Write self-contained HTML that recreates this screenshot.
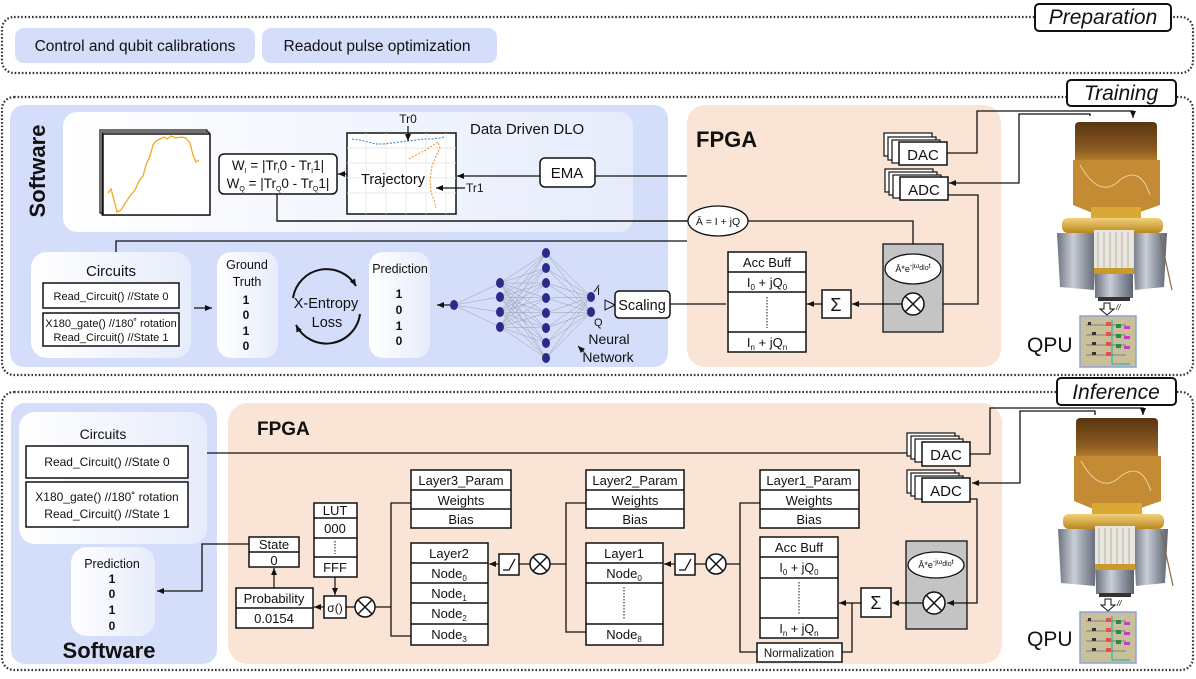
<!DOCTYPE html>
<html><head><meta charset="utf-8"><style>
html,body{margin:0;padding:0;background:#fff}
svg{display:block}
text{font-family:"Liberation Sans",Arial,sans-serif;fill:#111}
</style></head><body>
<svg width="1196" height="679" viewBox="0 0 1196 679" xmlns="http://www.w3.org/2000/svg">
<defs>
<marker id="ar" markerWidth="8" markerHeight="8" refX="7" refY="4" orient="auto" markerUnits="userSpaceOnUse"><path d="M0,1 L7,4 L0,7 Z" fill="#111"/></marker>
<linearGradient id="wp" x1="0" y1="0" x2="1" y2="0"><stop offset="0" stop-color="#ffffff"/><stop offset="1" stop-color="#e6ecfb"/></linearGradient>
<linearGradient id="silver" x1="0" y1="0" x2="1" y2="0"><stop offset="0" stop-color="#6e7480"/><stop offset=".4" stop-color="#c9ced6"/><stop offset=".7" stop-color="#8f96a3"/><stop offset="1" stop-color="#5e6470"/></linearGradient>
<linearGradient id="gold" x1="0" y1="0" x2="0" y2="1"><stop offset="0" stop-color="#f3d27a"/><stop offset="1" stop-color="#b8871f"/></linearGradient>
<linearGradient id="copper" x1="0" y1="0" x2="0" y2="1"><stop offset="0" stop-color="#5a3512"/><stop offset=".6" stop-color="#8a5a20"/><stop offset="1" stop-color="#c7912f"/></linearGradient>
<g id="cryo">
 <rect x="1075" y="122" width="82" height="45" rx="4" fill="url(#copper)"/>
 <path d="M1073 160 L1160 160 L1160 205 L1140 212 L1090 212 L1073 205 Z" fill="#c48a34"/>
 <path d="M1080 165 Q1100 200 1120 180 Q1140 165 1150 195" stroke="#e9d2a0" stroke-width="1" fill="none"/>
 <rect x="1091" y="207" width="50" height="14" fill="#d9a836"/>
 <rect x="1062" y="218" width="101" height="15" rx="6" fill="url(#gold)"/>
 <path d="M1057 233 L1097 233 L1094 290 L1060 287 Z" fill="url(#silver)"/>
 <path d="M1132 233 L1167 233 L1164 287 L1135 290 Z" fill="url(#silver)"/>
 <rect x="1094" y="230" width="40" height="40" fill="#e8e6df"/>
 <path d="M1098 232 L1098 268 M1104 232 L1104 268 M1110 232 L1110 268 M1116 232 L1116 268 M1122 232 L1122 268 M1128 232 L1128 268" stroke="#b9b39f" stroke-width="1"/>
 <rect x="1094" y="268" width="40" height="6" fill="#c79a2b"/>
 <rect x="1095" y="274" width="38" height="24" fill="url(#silver)"/>
 <rect x="1098" y="297" width="32" height="4" fill="#333"/>
 <path d="M1160 235 L1172 290" stroke="#8a6a40" stroke-width="1.2"/>
</g>
<g id="chip">
 <rect x="1080" y="316" width="56" height="51" fill="#c9bf9a" stroke="#8ea0d8" stroke-width="1.5"/>
 <path d="M1086 325 h40 M1086 335 h40 M1086 345 h40 M1086 355 h40" stroke="#6a6a6a" stroke-width=".8"/>
 <path d="M1112 320 v44 h18" stroke="#1ab0a0" stroke-width="1" fill="none"/>
 <rect x="1106" y="322" width="5" height="4" fill="#e05050"/><rect x="1106" y="332" width="5" height="4" fill="#e05050"/><rect x="1106" y="342" width="5" height="4" fill="#e05050"/><rect x="1106" y="352" width="5" height="4" fill="#e05050"/>
 <rect x="1116" y="324" width="5" height="4" fill="#2a8a4a"/><rect x="1116" y="334" width="5" height="4" fill="#2a8a4a"/><rect x="1116" y="344" width="5" height="4" fill="#2a8a4a"/>
 <rect x="1124" y="326" width="6" height="3" fill="#c040c0"/><rect x="1124" y="336" width="6" height="3" fill="#c040c0"/><rect x="1124" y="346" width="6" height="3" fill="#c040c0"/>
 <rect x="1088" y="322" width="3" height="3" fill="#333"/><rect x="1092" y="332" width="4" height="3" fill="#333"/><rect x="1092" y="342" width="4" height="3" fill="#333"/><rect x="1092" y="352" width="4" height="3" fill="#333"/>
</g>
</defs>

<!-- PREPARATION -->
<rect x="2" y="17" width="1191" height="56" rx="12" fill="none" stroke="#333" stroke-width="2.2" stroke-dasharray="1.6 2"/>
<rect x="1035" y="4" width="136" height="27" rx="4" fill="#fff" stroke="#111" stroke-width="2"/>
<text x="1103" y="24" font-size="21" font-style="italic" text-anchor="middle">Preparation</text>
<rect x="15" y="28" width="240" height="35" rx="9" fill="#d4defa"/>
<text x="135" y="51" font-size="15.5" text-anchor="middle">Control and qubit calibrations</text>
<rect x="262" y="28" width="235" height="35" rx="9" fill="#d4defa"/>
<text x="377" y="51" font-size="15.5" text-anchor="middle">Readout pulse optimization</text>

<!-- TRAINING -->
<rect x="2" y="97" width="1191" height="278" rx="12" fill="none" stroke="#333" stroke-width="2.2" stroke-dasharray="1.6 2"/>
<rect x="10" y="105" width="658" height="262" rx="14" fill="#d4defa"/>
<rect x="63" y="112" width="570" height="120" rx="14" fill="url(#wp)"/>
<text transform="translate(45,171) rotate(-90)" font-size="22" font-weight="bold" text-anchor="middle">Software</text>
<!-- plot stack -->
<rect x="100" y="130" width="107" height="83" fill="#fff" stroke="#111" stroke-width="1.2"/>
<rect x="102" y="132" width="107" height="83" fill="#fff" stroke="#111" stroke-width="1.2"/>
<rect x="103" y="134" width="107" height="81" fill="#fff" stroke="#111" stroke-width="1.5"/>
<path d="M108 193 L111 189 L114 200 L117 212 L121 210 L126 202 L130 196 L135 190 L139 181 L143 176 L146 165 L150 156 L153 145 L156 141 L160 139 L164 137 L167 139 L171 136 L176 138 L181 137 L186 138 L190 143 L193 155 L196 162 L199 160" stroke="#f5a623" stroke-width="1.3" fill="none"/>
<!-- W box -->
<rect x="219" y="154" width="118" height="40" rx="5" fill="#fff" stroke="#111" stroke-width="1.5"/>
<text x="278" y="170" font-size="13.5" text-anchor="middle">W<tspan font-size="7" dy="3">I</tspan><tspan dy="-3"> = |Tr</tspan><tspan font-size="7" dy="3">I</tspan><tspan dy="-3">0 - Tr</tspan><tspan font-size="7" dy="3">I</tspan><tspan dy="-3">1|</tspan></text>
<text x="278" y="188" font-size="13.5" text-anchor="middle">W<tspan font-size="7" dy="3">Q</tspan><tspan dy="-3"> = |Tr</tspan><tspan font-size="7" dy="3">Q</tspan><tspan dy="-3">0 - Tr</tspan><tspan font-size="7" dy="3">Q</tspan><tspan dy="-3">1|</tspan></text>
<!-- trajectory -->
<rect x="347" y="133" width="109" height="81" fill="#fff" stroke="#111" stroke-width="1.5"/>
<path d="M347 148 h109 M347 163 h109 M347 178 h109 M347 193 h109 M366 133 v81 M386 133 v81 M406 133 v81 M426 133 v81 M446 133 v81" stroke="#e4e4e4" stroke-width=".7"/>
<path d="M352 139 L360 140 L368 142 L376 144 L384 144 L392 143 L400 142 L408 141 L416 140 L424 139 L432 139 L440 138 L444 137" stroke="#2f7fc0" stroke-width="1" fill="none" stroke-dasharray="2 1.5"/>
<path d="M409 159 L416 155 L424 151 L432 146 L438 142 L440 148 L436 156 L432 166 L430 180 L431 192 L434 200 L436 208" stroke="#f08a24" stroke-width="1" fill="none" stroke-dasharray="2 1.5"/>
<text x="393" y="184" font-size="14.5" text-anchor="middle">Trajectory</text>
<text x="408" y="123" font-size="12" text-anchor="middle">Tr0</text>
<line x1="408" y1="126" x2="408" y2="141" stroke="#111" stroke-width="1.2" marker-end="url(#ar)"/>
<text x="466" y="192" font-size="12">Tr1</text>
<line x1="465" y1="188" x2="436" y2="188" stroke="#111" stroke-width="1.2" marker-end="url(#ar)"/>
<text x="470" y="134" font-size="15">Data Driven DLO</text>
<!-- EMA -->
<rect x="540" y="158" width="55" height="29" rx="5" fill="#fff" stroke="#111" stroke-width="1.5"/>
<text x="567" y="178" font-size="15" text-anchor="middle">EMA</text>
<line x1="540" y1="176" x2="457" y2="176" stroke="#111" stroke-width="1.3" marker-end="url(#ar)"/>
<line x1="347" y1="174" x2="338" y2="174" stroke="#111" stroke-width="1.3" marker-end="url(#ar)"/>
<polyline points="595,176 871,176 871,304" fill="none" stroke="#111" stroke-width="1.3"/>
<polyline points="277,194 277,221 688,221" fill="none" stroke="#111" stroke-width="1.3"/>
<polyline points="116,252 116,241 777,241 777,146 884,146" fill="none" stroke="#111" stroke-width="1.3" marker-end="url(#ar)"/>
<!-- circuits -->
<rect x="31" y="252" width="160" height="106" rx="16" fill="url(#wp)"/>
<text x="111" y="276" font-size="15" text-anchor="middle">Circuits</text>
<rect x="43" y="283" width="136" height="25" fill="#fff" stroke="#111" stroke-width="1.5"/>
<text x="111" y="300" font-size="11" text-anchor="middle">Read_Circuit() //State 0</text>
<rect x="43" y="313" width="136" height="33" fill="#fff" stroke="#111" stroke-width="1.5"/>
<text x="111" y="327" font-size="11" text-anchor="middle">X180_gate() //180˚ rotation</text>
<text x="111" y="341" font-size="11" text-anchor="middle">Read_Circuit() //State 1</text>
<line x1="194" y1="308" x2="212" y2="308" stroke="#111" stroke-width="1.3" marker-end="url(#ar)"/>
<rect x="217" y="252" width="61" height="106" rx="14" fill="url(#wp)"/>
<text x="247" y="269" font-size="12.5" text-anchor="middle">Ground</text>
<text x="247" y="286" font-size="12.5" text-anchor="middle">Truth</text>
<g font-size="12" font-weight="bold" text-anchor="middle"><text x="246" y="304">1</text><text x="246" y="319">0</text><text x="246" y="335">1</text><text x="246" y="350">0</text></g>
<!-- loss -->
<path d="M293 298 A34 34 0 0 1 356 286" fill="none" stroke="#111" stroke-width="2" marker-end="url(#ar)"/>
<path d="M360 314 A34 34 0 0 1 296 325" fill="none" stroke="#111" stroke-width="2" marker-end="url(#ar)"/>
<text x="326" y="308" font-size="14.5" text-anchor="middle">X-Entropy</text>
<text x="327" y="327" font-size="14.5" text-anchor="middle">Loss</text>
<rect x="369" y="252" width="61" height="106" rx="14" fill="url(#wp)"/>
<text x="400" y="273" font-size="12.5" text-anchor="middle">Prediction</text>
<g font-size="12" font-weight="bold" text-anchor="middle"><text x="399" y="298">1</text><text x="399" y="314">0</text><text x="399" y="330">1</text><text x="399" y="345">0</text></g>
<!-- NN -->
<g stroke="#9a9aa8" stroke-width=".5" fill="none">
<path d="M454 305 L500 283 M454 305 L500 297 M454 305 L500 312 M454 305 L500 327"/>
<path d="M500 283 L546 253 M500 283 L546 268 M500 283 L546 283 M500 283 L546 298 M500 283 L546 313 M500 283 L546 328 M500 283 L546 343 M500 283 L546 358
M500 297 L546 253 M500 297 L546 268 M500 297 L546 283 M500 297 L546 298 M500 297 L546 313 M500 297 L546 328 M500 297 L546 343 M500 297 L546 358
M500 312 L546 253 M500 312 L546 268 M500 312 L546 283 M500 312 L546 298 M500 312 L546 313 M500 312 L546 328 M500 312 L546 343 M500 312 L546 358
M500 327 L546 253 M500 327 L546 268 M500 327 L546 283 M500 327 L546 298 M500 327 L546 313 M500 327 L546 328 M500 327 L546 343 M500 327 L546 358"/>
<path d="M546 253 L591 297 M546 268 L591 297 M546 283 L591 297 M546 298 L591 297 M546 313 L591 297 M546 328 L591 297 M546 343 L591 297 M546 358 L591 297
M546 253 L591 312 M546 268 L591 312 M546 283 L591 312 M546 298 L591 312 M546 313 L591 312 M546 328 L591 312 M546 343 L591 312 M546 358 L591 312"/>
</g>
<g fill="#2a2a8a">
<ellipse cx="454" cy="305" rx="4" ry="5"/>
<ellipse cx="500" cy="283" rx="4" ry="5"/><ellipse cx="500" cy="297" rx="4" ry="5"/><ellipse cx="500" cy="312" rx="4" ry="5"/><ellipse cx="500" cy="327" rx="4" ry="5"/>
<ellipse cx="546" cy="253" rx="4" ry="5"/><ellipse cx="546" cy="268" rx="4" ry="5"/><ellipse cx="546" cy="283" rx="4" ry="5"/><ellipse cx="546" cy="298" rx="4" ry="5"/><ellipse cx="546" cy="313" rx="4" ry="5"/><ellipse cx="546" cy="328" rx="4" ry="5"/><ellipse cx="546" cy="343" rx="4" ry="5"/><ellipse cx="546" cy="358" rx="4" ry="5"/>
<ellipse cx="591" cy="297" rx="4" ry="5"/><ellipse cx="591" cy="312" rx="4" ry="5"/>
</g>
<line x1="450" y1="305" x2="437" y2="305" stroke="#111" stroke-width="1.2" marker-end="url(#ar)"/>
<line x1="594" y1="292" x2="599" y2="285" stroke="#111" stroke-width="1"/>
<text x="597" y="295" font-size="11">I</text>
<text x="594" y="326" font-size="11">Q</text>
<polyline points="615,305 605,300 605,310 615,305" fill="none" stroke="#111" stroke-width="1"/>
<path d="M584 352 L578 346" stroke="#111" stroke-width="1" marker-end="url(#ar)"/>
<text x="609" y="344" font-size="14" text-anchor="middle">Neural</text>
<text x="608" y="362" font-size="14" text-anchor="middle">Network</text>
<rect x="615" y="291" width="55" height="27" rx="4" fill="#fff" stroke="#111" stroke-width="1.5"/>
<text x="642" y="310" font-size="14.5" text-anchor="middle">Scaling</text>

<!-- FPGA training -->
<rect x="687" y="105" width="314" height="262" rx="18" fill="#f9e4d6"/>
<line x1="670" y1="304" x2="726" y2="304" stroke="#111" stroke-width="1.3"/>
<text x="696" y="147" font-size="22" font-weight="bold">FPGA</text>
<polyline points="277,221 688,221" fill="none" stroke="#111" stroke-width="1.3"/>
<ellipse cx="718" cy="221" rx="30" ry="15" fill="#fff" stroke="#111" stroke-width="1.3"/>
<text x="718" y="225" font-size="10.5" text-anchor="middle">Ā = I + jQ</text>
<polyline points="748,221 913,221 913,254" fill="none" stroke="#111" stroke-width="1.3" marker-end="url(#ar)"/>
<!-- DAC/ADC -->
<rect x="884" y="133" width="48" height="23" fill="#fff" stroke="#111" stroke-width="1.2"/>
<rect x="888" y="137" width="48" height="23" fill="#fff" stroke="#111" stroke-width="1.2"/>
<rect x="892" y="140" width="48" height="23" fill="#fff" stroke="#111" stroke-width="1.2"/>
<rect x="899" y="142" width="48" height="23" fill="#fff" stroke="#111" stroke-width="1.5"/>
<text x="923" y="160" font-size="15" text-anchor="middle">DAC</text>
<rect x="885" y="169" width="48" height="23" fill="#fff" stroke="#111" stroke-width="1.2"/>
<rect x="889" y="172" width="48" height="23" fill="#fff" stroke="#111" stroke-width="1.2"/>
<rect x="893" y="175" width="48" height="23" fill="#fff" stroke="#111" stroke-width="1.2"/>
<rect x="900" y="177" width="48" height="23" fill="#fff" stroke="#111" stroke-width="1.5"/>
<text x="924" y="195" font-size="15" text-anchor="middle">ADC</text>
<polyline points="947,153 977,153 977,111 1133,111 1133,118" fill="none" stroke="#111" stroke-width="1.3" marker-end="url(#ar)"/>
<polyline points="1090,116 1090,114 1019,114 1019,183 949,183" fill="none" stroke="#111" stroke-width="1.3" marker-end="url(#ar)"/>
<polyline points="948,195 978,195 978,304 926,304" fill="none" stroke="#111" stroke-width="1.3" marker-end="url(#ar)"/>
<!-- gray box -->
<rect x="883" y="244" width="60" height="88" fill="#c4c4c4" stroke="#111" stroke-width="1.3"/>
<ellipse cx="913" cy="269" rx="28" ry="15" fill="#fff" stroke="#111" stroke-width="1.3"/>
<text x="913" y="272" font-size="9" text-anchor="middle">Ā*e<tspan font-size="7" dy="-4">-jω</tspan><tspan font-size="7" dy="2">dlo</tspan><tspan font-size="7" dy="-2">t</tspan></text>
<line x1="902" y1="304" x2="852" y2="304" stroke="#111" stroke-width="1.3" marker-end="url(#ar)"/>
<circle cx="913" cy="304" r="11" fill="#fff" stroke="#111" stroke-width="1.5"/>
<path d="M905 296 L921 312 M921 296 L905 312" stroke="#111" stroke-width="1.5"/>
<rect x="822" y="290" width="29" height="28" fill="#fff" stroke="#111" stroke-width="1.5"/>
<text x="836" y="311" font-size="18" text-anchor="middle">Σ</text>
<line x1="822" y1="304" x2="807" y2="304" stroke="#111" stroke-width="1.3" marker-end="url(#ar)"/>
<!-- Acc buff -->
<rect x="728" y="252" width="78" height="100" fill="#fff" stroke="#111" stroke-width="1.5"/>
<path d="M728 272 h78 M728 292 h78 M728 332 h78" stroke="#111" stroke-width="1.5"/>
<line x1="767" y1="297" x2="767" y2="328" stroke="#111" stroke-width="1" stroke-dasharray="1.5 1.5"/>
<text x="767" y="267" font-size="13" text-anchor="middle">Acc Buff</text>
<text x="767" y="287" font-size="13" text-anchor="middle">I<tspan font-size="8" dy="3">0</tspan><tspan dy="-3"> + jQ</tspan><tspan font-size="8" dy="3">0</tspan></text>
<text x="767" y="347" font-size="13" text-anchor="middle">I<tspan font-size="8" dy="3">n</tspan><tspan dy="-3"> + jQ</tspan><tspan font-size="8" dy="3">n</tspan></text>
<!-- QPU training -->
<use href="#cryo"/>
<use href="#chip"/>
<path d="M1104 303 h6 v6 h4 l-7 6 l-7 -6 h4 z" fill="#fff" stroke="#111" stroke-width="1"/>
<text x="1116" y="310" font-size="8" font-style="italic">//</text>
<text x="1027" y="352" font-size="21">QPU</text>
<rect x="1067" y="80" width="109" height="26" rx="4" fill="#fff" stroke="#111" stroke-width="2"/>
<text x="1121" y="100" font-size="21" font-style="italic" text-anchor="middle">Training</text>

<!-- INFERENCE -->
<rect x="2" y="392" width="1191" height="278" rx="12" fill="none" stroke="#333" stroke-width="2.2" stroke-dasharray="1.6 2"/>
<rect x="11" y="403" width="206" height="261" rx="14" fill="#d4defa"/>
<rect x="19" y="412" width="188" height="132" rx="16" fill="url(#wp)"/>
<text x="103" y="439" font-size="14" text-anchor="middle">Circuits</text>
<rect x="26" y="446" width="162" height="32" fill="#fff" stroke="#111" stroke-width="1.5"/>
<text x="107" y="466" font-size="12" text-anchor="middle">Read_Circuit() //State 0</text>
<rect x="26" y="482" width="162" height="45" fill="#fff" stroke="#111" stroke-width="1.5"/>
<text x="107" y="501" font-size="12" text-anchor="middle">X180_gate() //180˚ rotation</text>
<text x="107" y="518" font-size="12" text-anchor="middle">Read_Circuit() //State 1</text>
<rect x="71" y="547" width="84" height="89" rx="16" fill="url(#wp)"/>
<text x="112" y="568" font-size="12.5" text-anchor="middle">Prediction</text>
<g font-size="12" font-weight="bold" text-anchor="middle"><text x="112" y="583">1</text><text x="112" y="598">0</text><text x="112" y="614">1</text><text x="112" y="630">0</text></g>
<text x="109" y="658" font-size="22" font-weight="bold" text-anchor="middle">Software</text>

<rect x="228" y="403" width="774" height="261" rx="20" fill="#f9e4d6"/>
<text x="257" y="435" font-size="19" font-weight="bold">FPGA</text>
<line x1="207" y1="453" x2="920" y2="453" stroke="#111" stroke-width="1.3" marker-end="url(#ar)"/>
<polyline points="249,544 202,544 202,591 157,591" fill="none" stroke="#111" stroke-width="1.3" marker-end="url(#ar)"/>

<!-- State, LUT, Prob -->
<rect x="249" y="537" width="50" height="30" fill="#fff" stroke="#111" stroke-width="1.5"/>
<line x1="249" y1="552" x2="299" y2="552" stroke="#111" stroke-width="1.5"/>
<text x="274" y="549" font-size="13" text-anchor="middle">State</text>
<text x="274" y="565" font-size="13" text-anchor="middle">0</text>
<line x1="274" y1="588" x2="274" y2="568" stroke="#111" stroke-width="1.2" marker-end="url(#ar)"/>
<rect x="236" y="588" width="77" height="40" fill="#fff" stroke="#111" stroke-width="1.5"/>
<line x1="236" y1="608" x2="313" y2="608" stroke="#111" stroke-width="1.5"/>
<text x="274" y="603" font-size="13" text-anchor="middle">Probability</text>
<text x="274" y="623" font-size="13" text-anchor="middle">0.0154</text>
<rect x="314" y="503" width="43" height="74" fill="#fff" stroke="#111" stroke-width="1.5"/>
<path d="M314 518 h43 M314 538 h43 M314 557 h43" stroke="#111" stroke-width="1.5"/>
<line x1="335" y1="541" x2="335" y2="554" stroke="#111" stroke-width="1" stroke-dasharray="1.5 1.5"/>
<text x="335" y="515" font-size="13" text-anchor="middle">LUT</text>
<text x="335" y="533" font-size="13" text-anchor="middle">000</text>
<text x="335" y="572" font-size="13" text-anchor="middle">FFF</text>
<line x1="335" y1="577" x2="335" y2="595" stroke="#111" stroke-width="1.2" marker-end="url(#ar)"/>
<rect x="324" y="596" width="22" height="22" fill="#fff" stroke="#111" stroke-width="1.5"/>
<text x="335" y="612" font-size="12" text-anchor="middle">σ()</text>
<line x1="324" y1="607" x2="314" y2="607" stroke="#111" stroke-width="1.2" marker-end="url(#ar)"/>
<line x1="346" y1="607" x2="391" y2="607" stroke="#111" stroke-width="1.3"/>
<circle cx="365" cy="607" r="10" fill="#fff" stroke="#111" stroke-width="1.5"/>
<path d="M358 600 L372 614 M372 600 L358 614" stroke="#111" stroke-width="1.5"/>
<polyline points="411,503 391,503 391,636 411,636" fill="none" stroke="#111" stroke-width="1.3"/>

<!-- Layer3 param -->
<rect x="411" y="470" width="100" height="58" fill="#fff" stroke="#111" stroke-width="1.5"/>
<path d="M411 490 h100 M411 509 h100" stroke="#111" stroke-width="1.5"/>
<text x="461" y="485" font-size="13" text-anchor="middle">Layer3_Param</text>
<text x="461" y="505" font-size="13" text-anchor="middle">Weights</text>
<text x="461" y="524" font-size="13" text-anchor="middle">Bias</text>
<!-- Layer2 -->
<rect x="411" y="543" width="77" height="102" fill="#fff" stroke="#111" stroke-width="1.5"/>
<path d="M411 563 h77 M411 583 h77 M411 603 h77 M411 624 h77" stroke="#111" stroke-width="1.5"/>
<text x="449" y="558" font-size="13" text-anchor="middle">Layer2</text>
<text x="449" y="578" font-size="13" text-anchor="middle">Node<tspan font-size="8" dy="3">0</tspan></text>
<text x="449" y="598" font-size="13" text-anchor="middle">Node<tspan font-size="8" dy="3">1</tspan></text>
<text x="449" y="618" font-size="13" text-anchor="middle">Node<tspan font-size="8" dy="3">2</tspan></text>
<text x="449" y="639" font-size="13" text-anchor="middle">Node<tspan font-size="8" dy="3">3</tspan></text>
<line x1="499" y1="564" x2="489" y2="564" stroke="#111" stroke-width="1.2" marker-end="url(#ar)"/>
<rect x="499" y="554" width="20" height="21" fill="#fff" stroke="#111" stroke-width="1.5"/>
<polyline points="503,570 509,570 515,559" fill="none" stroke="#111" stroke-width="1.3"/>
<line x1="519" y1="564" x2="566" y2="564" stroke="#111" stroke-width="1.3"/>
<circle cx="540" cy="564" r="10" fill="#fff" stroke="#111" stroke-width="1.5"/>
<path d="M533 557 L547 571 M547 557 L533 571" stroke="#111" stroke-width="1.5"/>
<polyline points="586,503 566,503 566,632 586,632" fill="none" stroke="#111" stroke-width="1.3"/>
<!-- Layer2 param -->
<rect x="586" y="470" width="98" height="58" fill="#fff" stroke="#111" stroke-width="1.5"/>
<path d="M586 490 h98 M586 509 h98" stroke="#111" stroke-width="1.5"/>
<text x="635" y="485" font-size="13" text-anchor="middle">Layer2_Param</text>
<text x="635" y="505" font-size="13" text-anchor="middle">Weights</text>
<text x="635" y="524" font-size="13" text-anchor="middle">Bias</text>
<!-- Layer1 -->
<rect x="586" y="543" width="77" height="102" fill="#fff" stroke="#111" stroke-width="1.5"/>
<path d="M586 563 h77 M586 583 h77 M586 624 h77" stroke="#111" stroke-width="1.5"/>
<line x1="624" y1="587" x2="624" y2="620" stroke="#111" stroke-width="1" stroke-dasharray="1.5 1.5"/>
<text x="624" y="558" font-size="13" text-anchor="middle">Layer1</text>
<text x="624" y="578" font-size="13" text-anchor="middle">Node<tspan font-size="8" dy="3">0</tspan></text>
<text x="624" y="639" font-size="13" text-anchor="middle">Node<tspan font-size="8" dy="3">8</tspan></text>
<line x1="675" y1="564" x2="664" y2="564" stroke="#111" stroke-width="1.2" marker-end="url(#ar)"/>
<rect x="675" y="554" width="20" height="21" fill="#fff" stroke="#111" stroke-width="1.5"/>
<polyline points="679,570 685,570 691,559" fill="none" stroke="#111" stroke-width="1.3"/>
<line x1="695" y1="564" x2="740" y2="564" stroke="#111" stroke-width="1.3"/>
<circle cx="716" cy="564" r="10" fill="#fff" stroke="#111" stroke-width="1.5"/>
<path d="M709 557 L723 571 M723 557 L709 571" stroke="#111" stroke-width="1.5"/>
<polyline points="760,503 740,503 740,652 757,652" fill="none" stroke="#111" stroke-width="1.3"/>
<!-- Layer1 param -->
<rect x="760" y="470" width="99" height="58" fill="#fff" stroke="#111" stroke-width="1.5"/>
<path d="M760 490 h99 M760 509 h99" stroke="#111" stroke-width="1.5"/>
<text x="809" y="485" font-size="13" text-anchor="middle">Layer1_Param</text>
<text x="809" y="505" font-size="13" text-anchor="middle">Weights</text>
<text x="809" y="524" font-size="13" text-anchor="middle">Bias</text>
<!-- Acc buff inference -->
<rect x="760" y="537" width="78" height="101" fill="#fff" stroke="#111" stroke-width="1.5"/>
<path d="M760 557 h78 M760 578 h78 M760 618 h78" stroke="#111" stroke-width="1.5"/>
<line x1="799" y1="582" x2="799" y2="614" stroke="#111" stroke-width="1" stroke-dasharray="1.5 1.5"/>
<text x="799" y="552" font-size="13" text-anchor="middle">Acc Buff</text>
<text x="799" y="572" font-size="12.5" text-anchor="middle">I<tspan font-size="8" dy="3">0</tspan><tspan dy="-3"> + jQ</tspan><tspan font-size="8" dy="3">0</tspan></text>
<text x="799" y="633" font-size="12.5" text-anchor="middle">I<tspan font-size="8" dy="3">n</tspan><tspan dy="-3"> + jQ</tspan><tspan font-size="8" dy="3">n</tspan></text>
<rect x="757" y="643" width="85" height="19" fill="#fff" stroke="#111" stroke-width="1.5"/>
<text x="799" y="657" font-size="11.5" text-anchor="middle">Normalization</text>
<polyline points="842,652 852,652 852,603" fill="none" stroke="#111" stroke-width="1.3"/>
<line x1="861" y1="603" x2="839" y2="603" stroke="#111" stroke-width="1.3" marker-end="url(#ar)"/>
<rect x="861" y="588" width="30" height="29" fill="#fff" stroke="#111" stroke-width="1.5"/>
<text x="876" y="609" font-size="18" text-anchor="middle">Σ</text>
<!-- gray box inference -->
<rect x="906" y="541" width="61" height="88" fill="#c4c4c4" stroke="#111" stroke-width="1.3"/>
<ellipse cx="936" cy="565" rx="28" ry="13" fill="#fff" stroke="#111" stroke-width="1.3"/>
<text x="936" y="568" font-size="9" text-anchor="middle">Ā*e<tspan font-size="7" dy="-4">-jω</tspan><tspan font-size="7" dy="2">dlo</tspan><tspan font-size="7" dy="-2">t</tspan></text>
<line x1="923" y1="603" x2="892" y2="603" stroke="#111" stroke-width="1.3" marker-end="url(#ar)"/>
<circle cx="934" cy="603" r="11" fill="#fff" stroke="#111" stroke-width="1.5"/>
<path d="M926 595 L942 611 M942 595 L926 611" stroke="#111" stroke-width="1.5"/>
<!-- DAC/ADC inference -->
<rect x="907" y="433" width="48" height="23" fill="#fff" stroke="#111" stroke-width="1.2"/>
<rect x="911" y="436" width="48" height="23" fill="#fff" stroke="#111" stroke-width="1.2"/>
<rect x="915" y="439" width="48" height="23" fill="#fff" stroke="#111" stroke-width="1.2"/>
<rect x="922" y="442" width="48" height="24" fill="#fff" stroke="#111" stroke-width="1.5"/>
<text x="946" y="460" font-size="15" text-anchor="middle">DAC</text>
<rect x="907" y="470" width="48" height="23" fill="#fff" stroke="#111" stroke-width="1.2"/>
<rect x="911" y="473" width="48" height="23" fill="#fff" stroke="#111" stroke-width="1.2"/>
<rect x="915" y="476" width="48" height="23" fill="#fff" stroke="#111" stroke-width="1.2"/>
<rect x="922" y="478" width="48" height="24" fill="#fff" stroke="#111" stroke-width="1.5"/>
<text x="946" y="496" font-size="15" text-anchor="middle">ADC</text>
<polyline points="970,454 990,454 990,408 1143,408 1143,415" fill="none" stroke="#111" stroke-width="1.3" marker-end="url(#ar)"/>
<polyline points="1095,415 1095,411 1020,411 1020,483 972,483" fill="none" stroke="#111" stroke-width="1.3" marker-end="url(#ar)"/>
<polyline points="970,499 977,499 977,603 947,603" fill="none" stroke="#111" stroke-width="1.3" marker-end="url(#ar)"/>
<!-- QPU inference -->
<use href="#cryo" transform="translate(1,296)"/>
<use href="#chip" transform="translate(0,296)"/>
<path d="M1105 599 h6 v6 h4 l-7 6 l-7 -6 h4 z" fill="#fff" stroke="#111" stroke-width="1"/>
<text x="1117" y="606" font-size="8" font-style="italic">//</text>
<text x="1027" y="646" font-size="21">QPU</text>
<rect x="1057" y="378" width="119" height="27" rx="4" fill="#fff" stroke="#111" stroke-width="2"/>
<text x="1116" y="399" font-size="21" font-style="italic" text-anchor="middle">Inference</text>
</svg>
</body></html>
